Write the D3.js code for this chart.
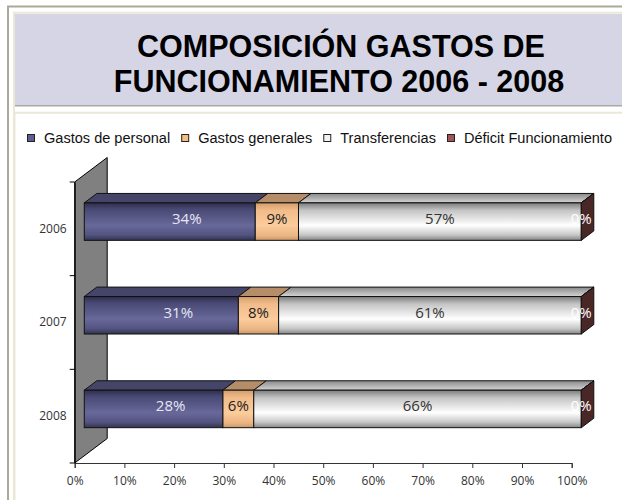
<!DOCTYPE html>
<html>
<head>
<meta charset="utf-8">
<script src="https://cdn.jsdelivr.net/npm/d3@7"></script>
<style>
  body { margin: 0; background: #fff; }
  svg { display: block; }
</style>
</head>
<body>
<div id="chart"></div>
<script>
// chart values
const years = ["2006", "2007", "2008"];
const seriesNames = ["Gastos de personal", "Gastos generales", "Transferencias", "Déficit Funcionamiento"];
const gastosPersonal = [34.4, 31.0, 27.9];
const gastosGenerales = [8.7, 8.1, 6.2];
const transferencias = [56.9, 60.9, 65.9];
const deficit = [0, 0, 0];
const xTicks = [0, 10, 20, 30, 40, 50, 60, 70, 80, 90, 100];

const width = 622, height = 500;

const svg = d3.select("#chart").append("svg")
    .attr("width", width)
    .attr("height", height);

const defs = svg.append("defs");
function vGrad(id, stops) {
    const g = defs.append("linearGradient").attr("id", id)
        .attr("x1", 0).attr("y1", 0).attr("x2", 0).attr("y2", 1);
    stops.forEach(([o, c]) => g.append("stop").attr("offset", o).attr("stop-color", c));
}
vGrad("gPers", [[0, "#2e2e4c"], [0.18, "#4a4a76"], [0.6, "#68689a"], [0.85, "#545482"], [1, "#33334f"]]);
vGrad("gGen", [[0, "#d49c6c"], [0.2, "#f2bc8a"], [0.6, "#fccc9c"], [0.88, "#eab482"], [1, "#c8956a"]]);
vGrad("gTrans", [[0, "#7c7c7c"], [0.2, "#c4c4c4"], [0.6, "#ffffff"], [0.85, "#c8c8c8"], [1, "#858585"]]);
vGrad("gTransTop", [[0, "#8a8a8a"], [1, "#d4d4d4"]]);

const frontFill = ["url(#gPers)", "url(#gGen)", "url(#gTrans)", "#a04c4c"];
const topFill = ["#45456a", "#b58d68", "url(#gTransTop)", "#6a3434"];
const sideFill = "#4a2727";
const legendFill = ["#5e5e8e", "#f6bc86", "#f2f2f2", "#a45454"];
const labelColor = ["#e6e6f4", "#222", "#333", "#fff"];

// ---- frames ----
svg.append("rect").attr("x", 8).attr("y", 6.5).attr("width", 640).attr("height", 520)
    .attr("fill", "none").attr("stroke", "#aaa99a").attr("stroke-width", 2);
svg.append("path").attr("d", "M14,520 V12.7 H640")
    .attr("fill", "none").attr("stroke", "#ebe9d6").attr("stroke-width", 2);
svg.append("rect").attr("x", 15).attr("y", 14).attr("width", 620).attr("height", 91)
    .attr("fill", "#d5d5e5");
svg.append("line").attr("x1", 15).attr("x2", 640).attr("y1", 105.7).attr("y2", 105.7)
    .attr("stroke", "#a9a9a2").attr("stroke-width", 1.6);
svg.append("path").attr("d", "M14.5,520 V112.8 H640")
    .attr("fill", "none").attr("stroke", "#ebe9d6").attr("stroke-width", 2);

// ---- title ----
const title = svg.append("text")
    .attr("text-anchor", "middle")
    .attr("font-family", "'Liberation Sans', Arial, sans-serif")
    .attr("font-weight", "bold")
    .attr("font-size", 30.5)
    .attr("fill", "#000");
title.append("tspan").attr("x", 341).attr("y", 57).text("COMPOSICIÓN GASTOS DE");
title.append("tspan").attr("x", 339).attr("y", 92).text("FUNCIONAMIENTO 2006 - 2008");

// ---- legend (narrow type, squeezed to the span it covers in the reference) ----
const legend = svg.append("g");
const legendTexts = seriesNames.map(name => legend.append("text")
    .attr("y", 142.8)
    .attr("font-family", "'Liberation Sans Narrow', 'Arial Narrow', 'Liberation Sans', sans-serif")
    .attr("font-size", 15.5).attr("fill", "#111").text(name));
const natW = legendTexts.map(t => t.node().getComputedTextLength());
const sqGap = 17, itemGap = 11;
const k = (612 - 27 - 4 * sqGap - 3 * itemGap) / d3.sum(natW);
let lx = 27;
seriesNames.forEach((name, i) => {
    legend.append("rect").attr("x", lx + 0.5).attr("y", 134.5).attr("width", 7).attr("height", 7)
        .attr("fill", legendFill[i]).attr("stroke", "#222").attr("stroke-width", 1);
    legendTexts[i].attr("x", lx + sqGap)
        .attr("textLength", natW[i] * k).attr("lengthAdjust", "spacingAndGlyphs");
    lx += sqGap + natW[i] * k + itemGap;
});

// ---- scales ----
const x = d3.scaleLinear().domain([0, 100]).range([74.7, 571.7]);
const y = d3.scaleBand().domain(years).range([182, 463]).paddingInner(0.6).paddingOuter(0.3);
const depthX = 32.5, depthY = -24.5;     // depth of the 3D floor
const f0 = 0.295, f1 = 0.68;             // bar depth position in the floor

// ---- wall ----
const y0 = y.range()[0], y1 = y.range()[1];
svg.append("path")
    .attr("d", `M${x(0)},${y0} L${x(0) + depthX},${y0 + depthY} L${x(0) + depthX},${y1 + depthY} L${x(0)},${y1} Z`)
    .attr("fill", "#808080").attr("stroke", "#000").attr("stroke-width", 1);

// ---- axes ----
const xAxis = svg.append("g")
    .attr("transform", `translate(0,${y1})`)
    .call(d3.axisBottom(x).tickValues(xTicks).tickSize(5).tickFormat(d => d + "%"));
xAxis.select(".domain").attr("stroke", "#333");
xAxis.selectAll(".tick line").attr("stroke", "#333");
xAxis.selectAll("text")
    .attr("font-family", "'Open Sans', sans-serif").attr("font-size", 12)
    .attr("fill", "#333").attr("dy", "1.15em");

const yAxis = svg.append("g")
    .attr("transform", `translate(${x(0)},0)`)
    .call(d3.axisLeft(y).tickSize(0).tickPadding(8));
yAxis.select(".domain").attr("stroke", "#000");
yAxis.selectAll("text")
    .attr("font-family", "'Open Sans', sans-serif").attr("font-size", 12)
    .attr("fill", "#333");
// tick marks between categories
const bounds = [y0].concat(years.map(d => y(d) + y.bandwidth() / 2 + y.step() / 2));
svg.append("g").selectAll("line").data(bounds).join("line")
    .attr("x1", x(0) - 5).attr("x2", x(0))
    .attr("y1", d => d).attr("y2", d => d)
    .attr("stroke", "#000");

// ---- stacked 3D bars ----
const table = years.map((yr, i) => ({
    year: yr,
    [seriesNames[0]]: gastosPersonal[i],
    [seriesNames[1]]: gastosGenerales[i],
    [seriesNames[2]]: transferencias[i],
    [seriesNames[3]]: deficit[i]
}));
const stacked = d3.stack().keys(seriesNames)(table);

const fx = v => x(v) + f0 * depthX;
const bx = v => x(v) + f1 * depthX;
const fy = yr => y(yr) + f0 * depthY;
const by = yr => y(yr) + f1 * depthY;
const bh = y.bandwidth();

const bars = svg.append("g");
years.forEach((yr, yi) => {
    const g = bars.append("g");
    stacked.forEach((layer, si) => {
        const [a, b] = layer[yi];
        // top face
        g.append("path")
            .attr("d", `M${fx(a)},${fy(yr)} L${bx(a)},${by(yr)} L${bx(b)},${by(yr)} L${fx(b)},${fy(yr)} Z`)
            .attr("fill", topFill[si]).attr("stroke", "#111").attr("stroke-width", 1);
        // front face
        g.append("rect")
            .attr("x", fx(a)).attr("y", fy(yr))
            .attr("width", fx(b) - fx(a)).attr("height", bh)
            .attr("fill", frontFill[si]).attr("stroke", "#111").attr("stroke-width", 1);
    });
    // right side face of the last segment
    const end = stacked[stacked.length - 1][yi][1];
    g.append("path")
        .attr("d", `M${fx(end)},${fy(yr)} L${bx(end)},${by(yr)} L${bx(end)},${by(yr) + bh} L${fx(end)},${fy(yr) + bh} Z`)
        .attr("fill", sideFill).attr("stroke", "#111").attr("stroke-width", 1);

    // labels
    stacked.forEach((layer, si) => {
        const [a, b] = layer[yi];
        const v = b - a;
        // first segment label sits further right, as in the reference
        const cx = (fx(a) + fx(b)) / 2 + (si === 0 ? 17 : 0);
        g.append("text")
            .attr("x", cx).attr("y", fy(yr) + bh / 2 - 3.5)
            .attr("text-anchor", "middle").attr("dominant-baseline", "central")
            .attr("font-family", "'Open Sans', sans-serif").attr("font-size", 15)
            .attr("fill", labelColor[si])
            .text(Math.round(v) + "%");
    });
});
</script>
</body>
</html>
